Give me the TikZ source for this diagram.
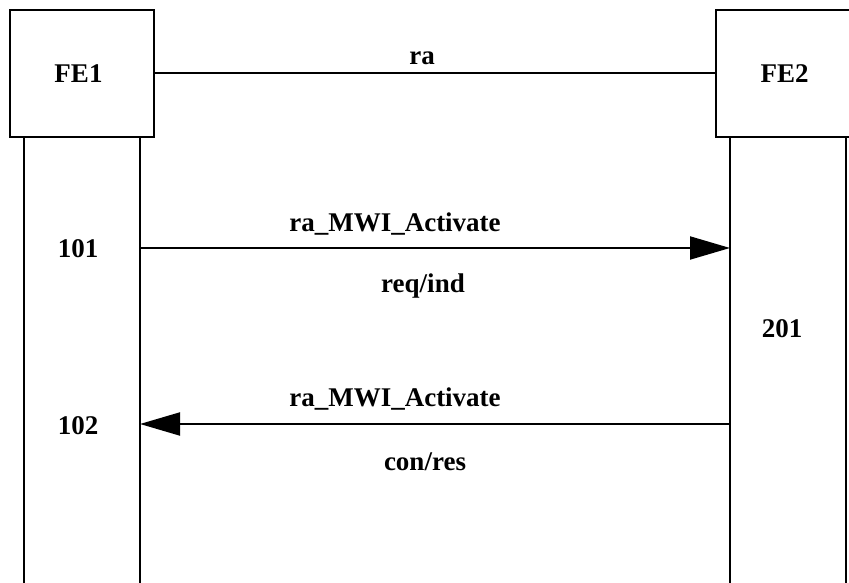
\documentclass[tikz,border=0pt]{standalone}
\usepackage{fontspec}
\setmainfont{Liberation Serif}
\usetikzlibrary{positioning,arrows.meta}

\begin{document}
\begin{tikzpicture}[
        x=1pt, y=1pt,
        font=\fontsize{27}{32}\selectfont\bfseries,
        entity/.style={draw, rectangle, line width=2pt, minimum width=144pt, minimum height=127pt, inner sep=0pt},
        life/.style={line width=2pt},
        msg/.style={line width=2pt, -{Triangle[length=40pt,width=23pt]}},
        lbl/.style={anchor=base, inner sep=0pt}
    ]
        \useasboundingbox (0,0) rectangle (849,583);
        \clip (0,0) rectangle (849,583);

        \node[entity] (fe1) at (82,509.5) {\hspace*{-7pt}FE1};
        \node[entity, right=560pt of fe1] (fe2) {\hspace*{-7pt}FE2};

        \draw[life] (fe1.east) -- node[lbl, above=8pt, xshift=-13pt]{ra} (fe2.west);

        % lifelines
        \coordinate (a1) at ([xshift=15pt]fe1.south west);
        \coordinate (a2) at ([xshift=-15pt]fe1.south east);
        \coordinate (b1) at ([xshift=15pt]fe2.south west);
        \coordinate (b2) at ([xshift=-15pt]fe2.south east);
        \coordinate (a1e) at (a1 |- 0,0);
        \coordinate (a2e) at (a2 |- 0,0);
        \coordinate (b1e) at (b1 |- 0,0);
        \coordinate (b2e) at (b2 |- 0,0);
        \draw[life] (a1) -- (a1e);
        \draw[life] (a2) -- (a2e);
        \draw[life] (b1) -- (b1e);
        \draw[life] (b2) -- (b2e);

        % messages
        \coordinate (m1s) at (a2 |- 0,335);
        \coordinate (m1e) at (b1 |- 0,335);
        \coordinate (m2s) at (b1 |- 0,159);
        \coordinate (m2e) at (a2 |- 0,159);
        \draw[msg] (m1s) -- (m1e);
        \draw[msg] (m2s) -- (m2e);

        \node[lbl] (act1) at (395,351) {ra\_MWI\_Activate};
        \node[lbl] (req) at (423,290) {req/ind};
        \node[lbl] (act2) at (395,176) {ra\_MWI\_Activate};
        \node[lbl] (con) at (425,112) {con/res};

        \node[lbl] (s101) at (78,325) {101};
        \node[lbl] (s102) at (78,148) {102};
        \node[lbl] (s201) at (782,245) {201};
    \end{tikzpicture}
\end{document}
